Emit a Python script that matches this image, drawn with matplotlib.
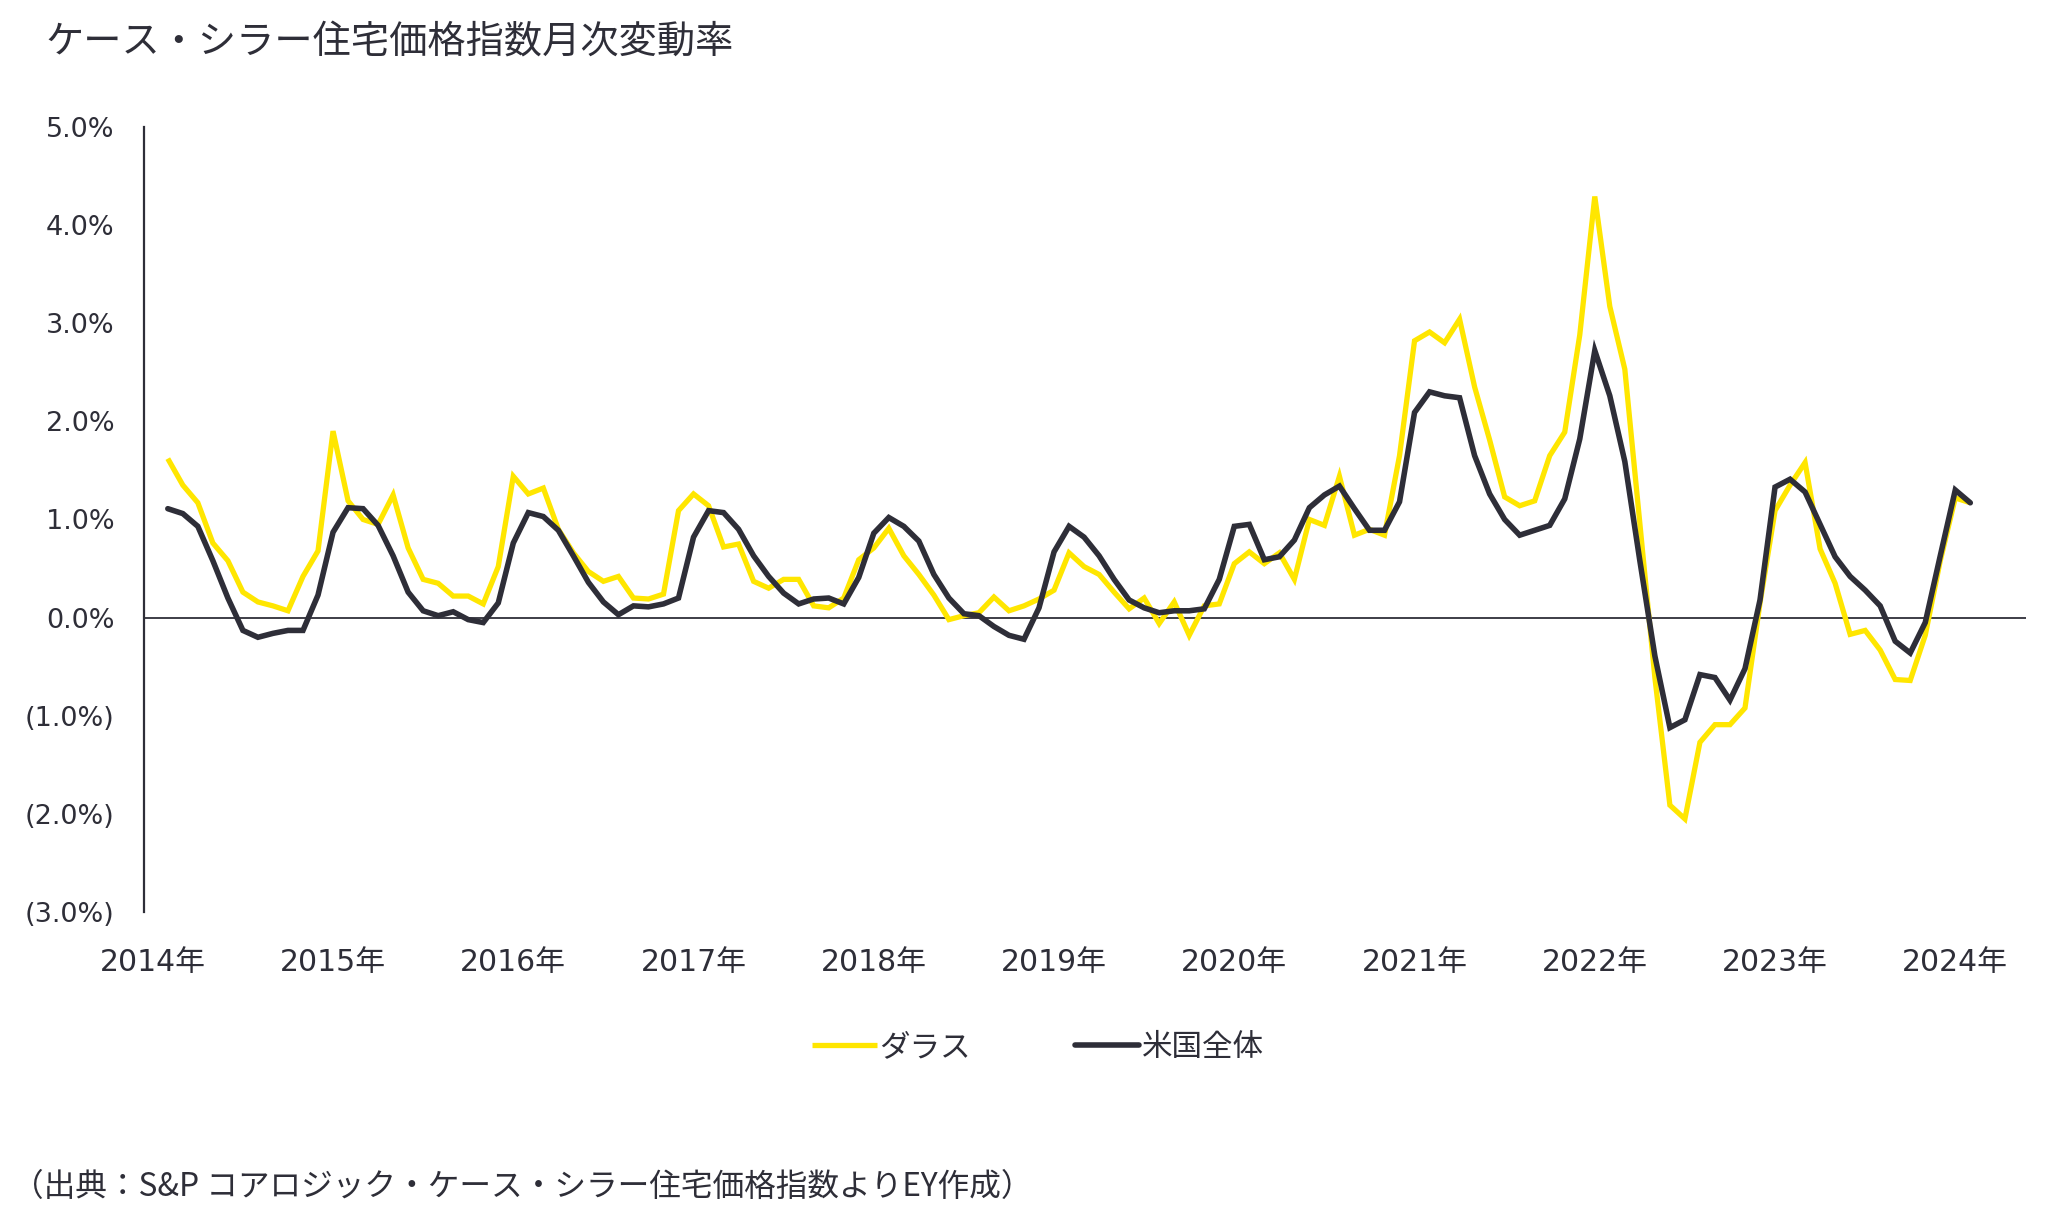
import matplotlib
matplotlib.use("Agg")
import matplotlib.pyplot as plt
from matplotlib.ticker import FixedLocator, FuncFormatter

# Monthly change (%), Feb 2014 onwards
dallas = [1.62, 1.35, 1.17, 0.76, 0.58, 0.26, 0.16, 0.12, 0.07, 0.42, 0.68, 1.90,
          1.19, 1.00, 0.95, 1.25, 0.71, 0.39, 0.35, 0.22, 0.22, 0.14, 0.52, 1.44,
          1.26, 1.32, 0.90, 0.66, 0.47, 0.37, 0.42, 0.20, 0.19, 0.24, 1.09, 1.26,
          1.14, 0.72, 0.75, 0.37, 0.30, 0.39, 0.39, 0.12, 0.10, 0.20, 0.59, 0.71,
          0.91, 0.63, 0.44, 0.23, -0.02, 0.02, 0.05, 0.21, 0.07, 0.12, 0.19, 0.28,
          0.66, 0.52, 0.44, 0.26, 0.09, 0.20, -0.06, 0.16, -0.18, 0.12, 0.14, 0.55,
          0.67, 0.55, 0.66, 0.39, 1.00, 0.94, 1.44, 0.84, 0.90, 0.84, 1.65, 2.82,
          2.91, 2.80, 3.04, 2.35, 1.81, 1.23, 1.14, 1.19, 1.65, 1.89, 2.88, 4.29,
          3.17, 2.53, 0.96, -0.61, -1.91, -2.05, -1.27, -1.09, -1.09, -0.92, 0.15, 1.09,
          1.35, 1.58, 0.70, 0.35, -0.17, -0.13, -0.33, -0.63, -0.64, -0.18, 0.58, 1.22,
          1.17]
us_total = [1.11, 1.06, 0.93, 0.58, 0.20, -0.13, -0.20, -0.16, -0.13, -0.13, 0.23, 0.87,
            1.12, 1.11, 0.94, 0.63, 0.26, 0.07, 0.02, 0.06, -0.02, -0.05, 0.15, 0.76,
            1.07, 1.03, 0.89, 0.63, 0.36, 0.16, 0.03, 0.12, 0.11, 0.14, 0.20, 0.82,
            1.09, 1.07, 0.90, 0.63, 0.42, 0.25, 0.14, 0.19, 0.20, 0.14, 0.41, 0.86,
            1.02, 0.93, 0.78, 0.44, 0.20, 0.04, 0.02, -0.09, -0.18, -0.22, 0.10, 0.67,
            0.93, 0.82, 0.63, 0.39, 0.18, 0.10, 0.05, 0.07, 0.07, 0.09, 0.39, 0.93,
            0.95, 0.59, 0.62, 0.79, 1.12, 1.25, 1.34, 1.11, 0.89, 0.89, 1.18, 2.09,
            2.30, 2.26, 2.24, 1.65, 1.26, 1.00, 0.84, 0.89, 0.94, 1.21, 1.82, 2.72,
            2.26, 1.59, 0.58, -0.39, -1.12, -1.04, -0.58, -0.61, -0.84, -0.52, 0.18, 1.33,
            1.41, 1.28, 0.95, 0.62, 0.42, 0.28, 0.12, -0.24, -0.36, -0.05, 0.63, 1.30,
            1.17]
year_labels = ["2014年", "2015年", "2016年", "2017年", "2018年", "2019年",
               "2020年", "2021年", "2022年", "2023年", "2024年"]
y_ticks = [5, 4, 3, 2, 1, 0, -1, -2, -3]

YELLOW = "#FFE600"
DARK = "#2E2E38"
JP = ["Noto Sans CJK JP", "DejaVu Sans"]
NUM = ["DejaVu Sans", "Noto Sans CJK JP"]

plt.rcParams["font.family"] = JP

fig = plt.figure(figsize=(20.48, 12.31), dpi=100)
ax = fig.add_axes([0.0702, 0.259, 0.919, 0.638])

x = list(range(len(dallas)))
ax.plot(x, dallas, color=YELLOW, lw=3.8, label="ダラス", solid_joinstyle="miter",
        solid_capstyle="butt")
ax.plot(x, us_total, color=DARK, lw=4.0, label="米国全体", solid_joinstyle="miter",
        solid_capstyle="round")
ax.axhline(0, color=DARK, lw=1.3, zorder=0)

ax.set_xlim(-1.6, 123.7)
ax.set_ylim(-3, 5)

for s in ["top", "right", "bottom"]:
    ax.spines[s].set_visible(False)
ax.spines["left"].set_color(DARK)
ax.spines["left"].set_linewidth(1.6)

ax.yaxis.set_major_locator(FixedLocator(y_ticks))
ax.yaxis.set_major_formatter(FuncFormatter(
    lambda v, p: f"{v:.1f}%" if v >= 0 else f"({abs(v):.1f}%)"))
ax.xaxis.set_major_locator(FixedLocator([12 * k - 1 for k in range(len(year_labels))]))
ax.set_xticklabels(year_labels)

ax.tick_params(axis="y", length=0, pad=21, labelsize=19.5, labelcolor=DARK)
ax.tick_params(axis="x", length=0, pad=26, labelsize=21.5, labelcolor=DARK)
for lab in ax.get_xticklabels() + ax.get_yticklabels():
    lab.set_family(NUM)

fig.text(0.0223, 0.965, "ケース・シラー住宅価格指数月次変動率", fontsize=27.5,
         color=DARK, va="center", ha="left")

fig.legend(loc="center", bbox_to_anchor=(0.507, 0.149), ncol=2, frameon=False,
           fontsize=22, handlelength=2.1, handletextpad=0.1, columnspacing=3.4,
           labelcolor=DARK)

fig.text(0.0057, 0.036, "（出典：S&P コアロジック・ケース・シラー住宅価格指数よりEY作成）",
         fontsize=22.8, color=DARK, va="center", ha="left")

fig.savefig("out.png", dpi=100, facecolor="white")
